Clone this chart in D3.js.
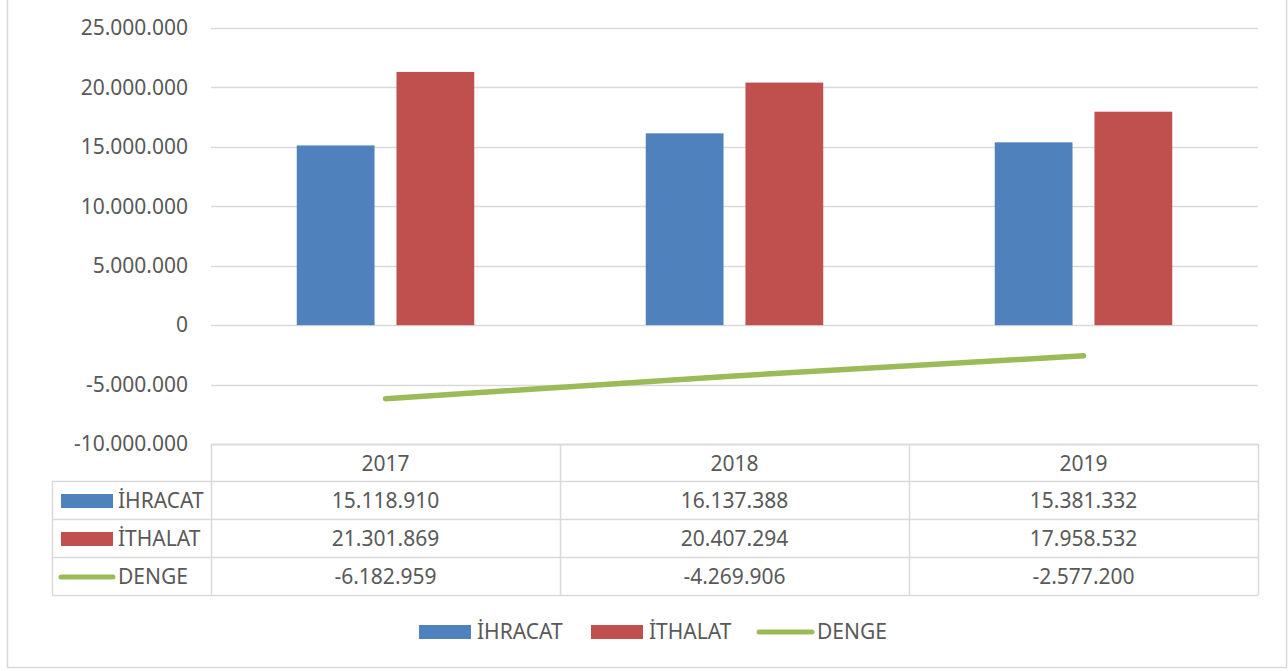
<!DOCTYPE html>
<html><head><meta charset="utf-8">
<script src="https://cdn.jsdelivr.net/npm/d3@7"></script>
<style>
html,body{margin:0;padding:0;background:#fff;}
svg{display:block;font-family:"Noto Sans","Open Sans",sans-serif;}
</style></head>
<body>
<svg id="c" width="1288" height="671"></svg>
<script>
const years = ["2017", "2018", "2019"];
const ihracat = [15118910, 16137388, 15381332];
const ithalat = [21301869, 20407294, 17958532];
const denge = [-6182959, -4269906, -2577200];
const yTicks = [-10000000, -5000000, 0, 5000000, 10000000, 15000000, 20000000, 25000000];
const seriesNames = ["İHRACAT", "İTHALAT", "DENGE"];
const colors = ["#4F81BD", "#C0504D", "#9BBB59"];

const loc = d3.formatLocale({decimal: ",", thousands: ".", grouping: [3], currency: ["", ""], minus: "-"});
const fmt = loc.format(",d");

const svg = d3.select("#c");
const pLeft = 211, pRight = 1258, pTop = 28, pBottom = 444;
const textCol = "#595959", gridCol = "#D9D9D9";

// frame
svg.append("rect").attr("x", 7.5).attr("y", -2).attr("width", 1279).attr("height", 669.5)
  .attr("fill", "none").attr("stroke", gridCol).attr("stroke-width", 1.5);

const x = d3.scaleBand().domain(years).range([pLeft, pRight]);
const xInner = d3.scaleBand().domain([0, 1]).range([0, x.bandwidth()]).paddingInner(0.22).paddingOuter(0.86);
const y = d3.scaleLinear().domain([-10000000, 25000000]).range([pBottom, pTop]);

// grid
svg.append("g").selectAll("line").data(yTicks).join("line")
  .attr("x1", pLeft).attr("x2", pRight)
  .attr("y1", d => Math.round(y(d)) + 0.5).attr("y2", d => Math.round(y(d)) + 0.5)
  .attr("stroke", gridCol).attr("stroke-width", 1.5);

// y axis labels
svg.append("g").selectAll("text").data(yTicks).join("text")
  .attr("x", 188).attr("y", d => y(d)).attr("dy", "0.35em")
  .attr("text-anchor", "end").attr("fill", textCol).attr("font-size", 21)
  .text(d => fmt(d));

// bars
const barSeries = [ihracat, ithalat];
barSeries.forEach((vals, si) => {
  svg.append("g").selectAll("rect").data(vals).join("rect")
    .attr("x", (d, i) => x(years[i]) + xInner(si))
    .attr("width", xInner.bandwidth())
    .attr("y", d => y(Math.max(0, d)))
    .attr("height", d => Math.abs(y(d) - y(0)))
    .attr("fill", colors[si]);
});

// line
const line = d3.line().x((d, i) => x(years[i]) + x.bandwidth() / 2).y(d => y(d));
svg.append("path").datum(denge).attr("d", line)
  .attr("fill", "none").attr("stroke", colors[2]).attr("stroke-width", 5.5)
  .attr("stroke-linecap", "round").attr("stroke-linejoin", "round");

// data table
const tTop = 444, hdrBottom = 481, rowH = 38, legLeft = 52;
const tg = svg.append("g");
const rowYs = [hdrBottom, hdrBottom + rowH, hdrBottom + 2 * rowH, hdrBottom + 3 * rowH];
tg.append("line").attr("x1", pLeft).attr("x2", pRight).attr("y1", tTop + 0.5).attr("y2", tTop + 0.5);
rowYs.forEach(ry => tg.append("line").attr("x1", legLeft).attr("x2", pRight).attr("y1", ry + 0.5).attr("y2", ry + 0.5));
const vx = [pLeft, ...years.map(yr => x(yr) + x.bandwidth())];
vx.forEach(v => tg.append("line").attr("x1", v + 0.5).attr("x2", v + 0.5).attr("y1", tTop).attr("y2", rowYs[3]));
tg.append("line").attr("x1", legLeft + 0.5).attr("x2", legLeft + 0.5).attr("y1", hdrBottom).attr("y2", rowYs[3]);
tg.selectAll("line").attr("stroke", gridCol).attr("stroke-width", 1.5);

tg.selectAll("text.h").data(years).join("text").attr("class", "h")
  .attr("x", d => x(d) + x.bandwidth() / 2).attr("y", (tTop + hdrBottom) / 2 + 1).attr("dy", "0.35em")
  .attr("text-anchor", "middle").attr("fill", textCol).attr("font-size", 21).text(d => d);

const allSeries = [ihracat, ithalat, denge];
allSeries.forEach((vals, si) => {
  const cy = rowYs[si] + rowH / 2 + 1;
  tg.append("g").selectAll("text").data(vals).join("text")
    .attr("x", (d, i) => x(years[i]) + x.bandwidth() / 2).attr("y", cy).attr("dy", "0.35em")
    .attr("text-anchor", "middle").attr("fill", textCol).attr("font-size", 21).text(d => fmt(d));
  if (si < 2) {
    tg.append("rect").attr("x", 61).attr("y", cy - 7).attr("width", 52).attr("height", 14).attr("fill", colors[si]);
  } else {
    tg.append("line").attr("x1", 61).attr("x2", 113).attr("y1", cy).attr("y2", cy)
      .attr("stroke", colors[si]).attr("stroke-width", 5).attr("stroke-linecap", "round");
  }
  tg.append("text").attr("x", 118).attr("y", cy).attr("dy", "0.35em")
    .attr("fill", textCol).attr("font-size", 21).text(seriesNames[si]);
});

// legend
const legX = [419, 591, 757];
const ly = 632;
const lg = svg.append("g");
seriesNames.forEach((name, si) => {
  if (si < 2) {
    lg.append("rect").attr("x", legX[si]).attr("y", ly - 7).attr("width", 52).attr("height", 14).attr("fill", colors[si]);
  } else {
    lg.append("line").attr("x1", legX[si] + 2).attr("x2", legX[si] + 55).attr("y1", ly).attr("y2", ly)
      .attr("stroke", colors[si]).attr("stroke-width", 5).attr("stroke-linecap", "round");
  }
  lg.append("text").attr("x", legX[si] + (si < 2 ? 58 : 60)).attr("y", ly).attr("dy", "0.35em")
    .attr("fill", textCol).attr("font-size", 21).text(name);
});
</script>
</body></html>
